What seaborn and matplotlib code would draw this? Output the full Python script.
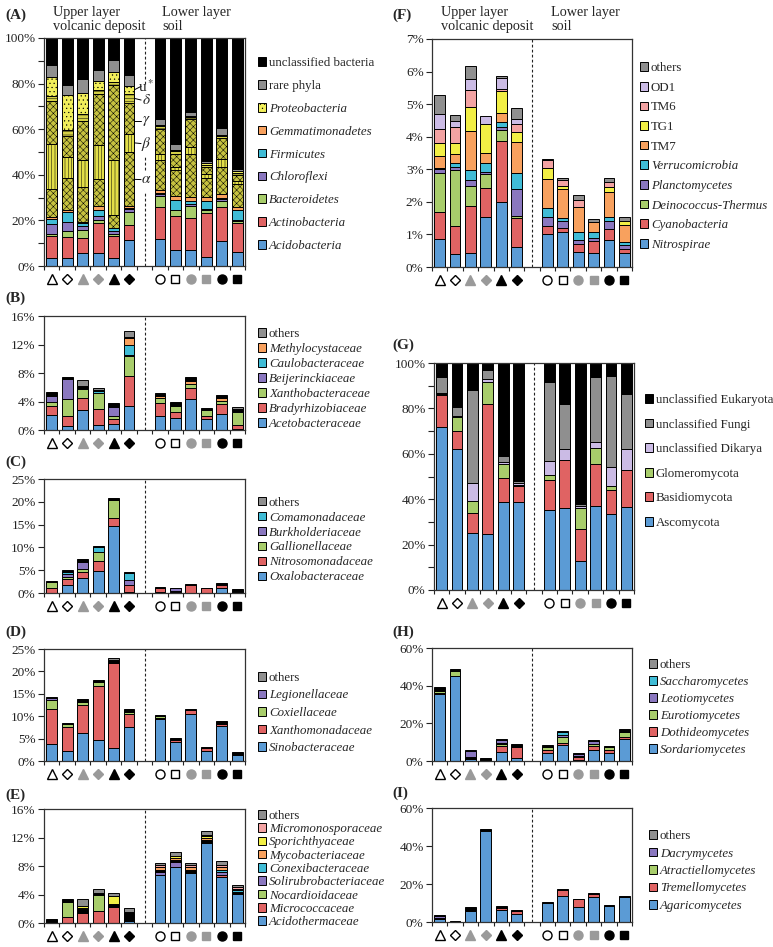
import numpy as np
import pandas as pd
import matplotlib
matplotlib.use("Agg")
import matplotlib.pyplot as plt
import matplotlib.transforms as mtransforms
from matplotlib.patches import Patch
from matplotlib.ticker import PercentFormatter, MultipleLocator
import seaborn as sns

# sample order: 6 upper-layer volcanic deposit, 6 lower-layer soil (gap at x=6)
POS = [0, 1, 2, 3, 4, 5, 7, 8, 9, 10, 11, 12]

# (A) bacterial phyla, % of reads, bottom -> top
bact_phyla = {
    "Acidobacteria":        [3.3, 3.5, 5.5, 5.5, 3.5, 11.3, 12, 7, 6.8, 4, 11, 6.3],
    "Actinobacteria":       [9.9, 9.2, 6.7, 13.3, 9.5, 6.7, 14, 15, 14.4, 19.2, 14.7, 12.7],
    "Bacteroidetes":        [1.0, 2.5, 3.6, 1.2, 1.0, 5.5, 4.5, 2.5, 5.3, 1.3, 2.8, 0.8],
    "Chloroflexi":          [4.1, 4.3, 1.7, 2.0, 1.5, 1.3, 1.0, 0.2, 0.5, 0.5, 1.0, 0.5],
    "Firmicutes":           [2.2, 4.0, 1.2, 2.7, 1.0, 0.7, 0.5, 4.1, 1.7, 3.7, 0.5, 4.4],
    "Gemmatimonadetes":     [0.9, 1.0, 0.6, 1.8, 0.3, 1.0, 1.5, 1.7, 1.5, 1.5, 1.7, 1.0],
    "alpha":                [12.4, 14.0, 15.2, 11.5, 5.7, 23.5, 13, 11.5, 18.8, 8.3, 11.8, 10.3],
    "beta":                 [19.9, 9.5, 12.0, 15.0, 24.0, 8.0, 2.5, 1.5, 3.0, 2.0, 3.5, 1.5],
    "gamma":                [18.5, 9.0, 17.0, 22.5, 33.0, 13.5, 11, 5.5, 12.5, 3.0, 9.0, 2.5],
    "delta":                [2.4, 2.5, 3.0, 1.5, 1.0, 4.0, 1.5, 1.5, 1.0, 1.0, 1.0, 1.0],
    "u":                    [8.4, 15.5, 9.5, 4.0, 4.5, 3.5, 0.5, 0.5, 0.3, 0.5, 0.5, 0.5],
    "rare phyla":           [5.3, 4.5, 6.0, 4.8, 5.5, 4.8, 2.5, 2.5, 1.7, 1.0, 3.0, 1.0],
    "unclassified bacteria": [11.7, 20.5, 18.0, 14.2, 9.5, 16.2, 35.5, 46.5, 32.5, 54, 39.5, 57.5],
}

# (B) Alphaproteobacteria families
alpha_fam = {
    "Acetobacteraceae":   [2.1, 0.6, 2.8, 0.7, 0.8, 3.4, 2.0, 1.7, 4.3, 1.55, 2.25, 0.1],
    "Bradyrhizobiaceae":  [1.2, 1.4, 1.75, 2.3, 0.8, 4.2, 1.75, 0.8, 1.6, 0.4, 1.35, 0.6],
    "Xanthobacteraceae":  [0.7, 2.4, 1.15, 2.2, 0.3, 2.8, 0.7, 0.8, 0.6, 0.9, 0.5, 1.85],
    "Beijerinckiaceae":   [0.8, 2.7, 0, 0, 1.3, 0.15, 0, 0, 0, 0, 0, 0],
    "Caulobacteraceae":   [0, 0, 0.25, 0.25, 0, 1.4, 0, 0, 0, 0, 0, 0.15],
    "Methylocystaceae":   [0, 0, 0, 0, 0, 0.9, 0.35, 0, 0.35, 0, 0.45, 0],
    "_unclassified":      [0.5, 0.4, 0.25, 0.2, 0.6, 0.15, 0.2, 0.6, 0.65, 0.15, 0.3, 0.2],
    "others":             [0, 0, 0.8, 0.25, 0, 0.95, 0.2, 0, 0, 0.1, 0, 0.35],
}

# (C) Betaproteobacteria families
beta_fam = {
    "Oxalobacteraceae":   [0, 1.7, 3.3, 4.9, 14.7, 0.3, 0.3, 0.2, 0.1, 0, 1.1, 0.2],
    "Nitrosomonadaceae":  [1.1, 1.4, 1.2, 2.2, 1.7, 1.4, 0.9, 0.3, 1.7, 1.1, 0.7, 0],
    "Gallionellaceae":    [1.4, 0.5, 0.8, 1.8, 3.9, 0, 0, 0, 0, 0, 0, 0],
    "Burkholderiaceae":   [0, 0.5, 1.5, 0, 0, 1.2, 0, 0.6, 0, 0, 0, 0],
    "Comamonadaceae":     [0, 0.6, 0, 1.2, 0, 1.4, 0, 0, 0, 0, 0, 0],
    "_unclassified":      [0.2, 0.2, 0.6, 0.3, 0.6, 0.2, 0.1, 0.1, 0.2, 0.1, 0.5, 0.7],
    "others":             [0, 0.2, 0, 0, 0, 0, 0, 0, 0, 0, 0, 0],
}

# (D) Gammaproteobacteria families
gamma_fam = {
    "Sinobacteraceae":    [3.8, 2.3, 6.3, 4.7, 2.8, 7.7, 9.3, 4.2, 10.5, 2.2, 7.9, 1.35],
    "Xanthomonadaceae":   [7.7, 5.4, 6.3, 12.1, 19.0, 2.9, 0.4, 0.5, 0.8, 0.7, 0.4, 0],
    "Coxiellaceae":       [2.1, 0.5, 0.6, 0.8, 0, 0.4, 0.3, 0, 0, 0, 0, 0],
    "Legionellaceae":     [0.4, 0, 0, 0, 0.1, 0, 0, 0, 0, 0, 0, 0],
    "_unclassified":      [0, 0.3, 0.6, 0.4, 0.6, 0.6, 0.3, 0.4, 0.3, 0.2, 0.6, 0.65],
    "others":             [0.3, 0, 0, 0, 0.6, 0, 0, 0, 0, 0, 0, 0],
}

# (E) Actinobacteria families
actino_fam = {
    "Acidothermaceae":         [0.05, 0.05, 0.05, 0.05, 0, 0.35, 6.7, 7.9, 7.0, 11.2, 6.5, 4.1],
    "Micrococcaceae":          [0, 0.75, 1.4, 1.6, 2.2, 0, 0, 0, 0, 0, 0.3, 0],
    "Nocardioidaceae":         [0, 2.1, 0, 2.35, 0, 0, 0, 0, 0, 0, 0, 0],
    "Solirubrobacteriaceae":   [0, 0, 0, 0, 0, 0, 0.4, 0.7, 0, 0, 0.4, 0],
    "_unclassified":           [0.45, 0.4, 0.6, 0.15, 0.5, 1.2, 0.4, 0.3, 0.4, 0.5, 0, 0.2],
    "Conexibacteraceae":       [0, 0, 0, 0, 0, 0, 0, 0, 0, 0, 0.3, 0.3],
    "Mycobacteriaceae":        [0, 0, 0, 0, 0, 0, 0.3, 0.25, 0.4, 0.3, 0.3, 0.15],
    "Sporichthyaceae":         [0, 0, 0.4, 0, 1.1, 0, 0, 0.2, 0, 0.2, 0, 0],
    "Micromonosporaceae":      [0, 0, 0, 0, 0, 0, 0.3, 0.1, 0.3, 0.2, 0.4, 0.25],
    "others":                  [0, 0, 0.85, 0.65, 0.45, 0.6, 0.3, 0.45, 0.3, 0.45, 0.5, 0.35],
}

# (F) minor bacterial phyla
minor_phyla = {
    "Nitrospirae":          [0.87, 0.39, 0.43, 1.54, 2.01, 0.62, 1.0, 1.06, 0.46, 0.43, 0.82, 0.43],
    "Cyanobacteria":        [0.83, 0.86, 1.43, 0.89, 1.86, 0.89, 0.25, 0.15, 0.24, 0.37, 0.36, 0.13],
    "Deinococcus-Thermus":  [1.2, 1.74, 0.62, 0.44, 0.35, 0.05, 0, 0, 0, 0, 0, 0],
    "Planctomycetes":       [0.12, 0.08, 0.19, 0.05, 0.09, 0.85, 0.27, 0.2, 0.12, 0.1, 0.23, 0.11],
    "Verrucomicrobia":      [0.03, 0.12, 0.32, 0.26, 0.14, 0.49, 0.28, 0.08, 0.24, 0.17, 0.13, 0.11],
    "TM7":                  [0.35, 0.28, 1.18, 0.31, 0.29, 0.93, 0.89, 0.91, 0.77, 0.31, 0.76, 0.5],
    "TG1":                  [0.4, 0.33, 0.73, 0.89, 0.67, 0.3, 0.34, 0.1, 0, 0, 0.16, 0.12],
    "TM6":                  [0.45, 0.5, 0.53, 0.02, 0.05, 0.25, 0.26, 0.17, 0.24, 0, 0.16, 0],
    "OD1":                  [0.45, 0.18, 0.33, 0.25, 0.33, 0.17, 0, 0, 0, 0, 0, 0],
    "others":               [0.58, 0.19, 0.41, 0, 0.08, 0.33, 0.02, 0.07, 0.13, 0.08, 0.1, 0.14],
}

# (G) eukaryotic groups
euk_phyla = {
    "Ascomycota":              [72, 62, 25, 24.7, 38.9, 38.9, 35.3, 36.1, 12.8, 37.2, 33.3, 36.5],
    "Basidiomycota":           [14, 8, 9, 57.3, 10.5, 6.9, 13.3, 21.1, 14.1, 18.1, 10.8, 16.5],
    "Glomeromycota":           [0.4, 6.2, 5.3, 9.5, 6.1, 0.5, 2.2, 0, 9.1, 7.2, 1.9, 0],
    "unclassified Dikarya":    [0.6, 0.6, 7.7, 1.5, 1.0, 0.7, 6.2, 5.0, 1.0, 2.6, 8.4, 9.0],
    "unclassified Fungi":      [7, 3.7, 41.3, 4, 2.5, 1.0, 34.8, 19.9, 1.0, 28.8, 40, 24.2],
    "unclassified Eukaryota":  [6, 19.5, 11.7, 3, 41, 52, 8.2, 17.9, 62, 6.1, 5.6, 13.8],
}

# (H) Ascomycota classes
asco_cls = {
    "Sordariomycetes":   [35.8, 45.3, 1.0, 0.3, 4.6, 1.4, 4.2, 8.5, 0.5, 6.0, 4.2, 11.5],
    "Dothideomycetes":   [0.2, 0, 0.3, 0, 3.5, 6.1, 1.6, 1.2, 1.6, 1.9, 1.4, 1.2],
    "Eurotiomycetes":    [1.2, 2.4, 0, 0, 1.0, 0, 1.8, 2.9, 0.3, 0.9, 1.8, 2.5],
    "_unclassified":     [2.3, 0.5, 1.0, 1.1, 0.5, 1.3, 0.5, 0.4, 0.3, 0.3, 0.4, 0.6],
    "Leotiomycetes":     [0, 0, 3.2, 0, 1.8, 0, 0, 0.7, 1.1, 1.4, 0, 0.4],
    "Saccharomycetes":   [0, 0, 0, 0, 0, 0, 0, 1.8, 0, 0, 0, 0],
    "others":            [0, 0.8, 0.3, 0, 0.4, 0, 0.4, 0.6, 0.3, 0.9, 0, 0.6],
}

# (I) Basidiomycota classes
basidio_cls = {
    "Agaricomycetes":      [1.8, 0.1, 6.0, 47.9, 6.3, 4.3, 9.8, 13.5, 7.9, 13.0, 8.6, 13.2],
    "Tremellomycetes":     [0.2, 0, 0.2, 0, 1.3, 1.3, 0, 3.3, 4.2, 1.6, 0, 0],
    "Atractiellomycetes":  [0, 0, 0, 0.7, 0, 0, 0, 0, 0, 0, 0, 0],
    "Dacrymycetes":        [1.0, 0, 0, 0, 0, 0, 0, 0, 0, 0, 0, 0],
    "_unclassified":       [0.5, 0.4, 1.5, 0.4, 0.6, 0.6, 0.7, 0.4, 0.1, 0.5, 0.5, 0.6],
}

# colours
BLUE = "#5b9bd5"
RED = "#e06363"
GREEN = "#a8cd6b"
PURPLE = "#8a77bf"
CYAN = "#40bcd6"
ORANGE = "#f8a15e"
YELLOW = "#f2ef45"
PINK = "#f3a3a3"
LAVENDER = "#cbbbe5"
GRAY = "#8f8f8f"
BLACK = "#000000"

W, H = 773, 947
LEG_FS = 9.3

sns.set_theme(style="ticks")
plt.rcParams["font.family"] = ["Liberation Serif", "DejaVu Serif"]
plt.rcParams["mathtext.fontset"] = "stix"
plt.rcParams["hatch.linewidth"] = 0.35

fig = plt.figure(figsize=(W / 100, H / 100), dpi=100)


def make_ax(l, r, t, b):
    return fig.add_axes([l / W, 1 - b / H, (r - l) / W, (b - t) / H])


def stack_bars(ax, data, colors, hatches=None):
    bottom = np.zeros(len(POS))
    for i, (name, vals) in enumerate(data.items()):
        vals = np.asarray(vals, dtype=float)
        df = pd.DataFrame({"pos": POS, "val": vals})
        sns.barplot(data=df, x="pos", y="val", native_scale=True, orient="x",
                    bottom=bottom.copy(), color=colors[i], saturation=1,
                    width=0.7, edgecolor="black", linewidth=0.7, errorbar=None,
                    hatch=hatches[i] if hatches else None, ax=ax)
        bottom += vals
    # zero-height bars would show up as stray black lines
    for p in ax.patches:
        if p.get_height() <= 0:
            p.set_visible(False)


MARKERS = [("^", "white", "black", 7), ("D", "white", "black", 5),
           ("^", "#9a9a9a", "#9a9a9a", 7), ("D", "#9a9a9a", "#9a9a9a", 5),
           ("^", "black", "black", 7), ("D", "black", "black", 5),
           ("o", "white", "black", 6.5), ("s", "white", "black", 6.2),
           ("o", "#9a9a9a", "#9a9a9a", 6.5), ("s", "#9a9a9a", "#9a9a9a", 6.2),
           ("o", "black", "black", 6.5), ("s", "black", "black", 6.2)]


def style_ax(ax, ymax, major, minor=None, dash_segments=None):
    ax.set_xlim(-0.5, 12.5)
    ax.set_ylim(0, ymax)
    ax.set_xlabel("")
    ax.set_ylabel("")
    ax.set_xticks(np.arange(-0.5, 12.6, 1))
    ax.yaxis.set_major_locator(MultipleLocator(major))
    if minor:
        ax.yaxis.set_minor_locator(MultipleLocator(minor))
    ax.yaxis.set_major_formatter(PercentFormatter(decimals=0))
    ax.tick_params(axis="x", which="major", length=3, width=0.8, labelbottom=False,
                   direction="out", bottom=True, color="#222222")
    ax.tick_params(axis="y", which="both", length=4, width=0.8, direction="out",
                   left=True, labelsize=9.5, labelcolor="#222222", color="#222222", pad=2)
    for sp in ax.spines.values():
        sp.set_visible(True)
        sp.set_linewidth(0.9)
        sp.set_color("#333333")
    if dash_segments is None:
        dash_segments = [(0, ymax)]
    for y0, y1 in dash_segments:
        ax.plot([6, 6], [y0, y1], color="#222222", lw=0.8, ls=(0, (2.5, 2)))
    trans = mtransforms.offset_copy(ax.get_xaxis_transform(), fig=fig, y=-13, units="dots")
    for x, (m, fc, ec, ms) in zip(POS, MARKERS):
        ax.plot([x], [0], ls="none", marker=m, ms=ms, mfc=fc, mec=ec, mew=1.0,
                transform=trans, clip_on=False)


def add_legend(names, colors, italic, x_px, yc_px, ls, hatches=None):
    handles = [Patch(facecolor=colors[i], edgecolor="black", linewidth=0.7,
                     hatch=hatches[i] if hatches else None) for i in range(len(names))]
    leg = fig.legend(handles, names, loc="center left",
                     bbox_to_anchor=(x_px / W, 1 - yc_px / H), frameon=False,
                     fontsize=LEG_FS, handlelength=0.65, handleheight=0.65,
                     handletextpad=0.2, labelspacing=ls, borderpad=0, borderaxespad=0)
    for t in leg.get_texts():
        if t.get_text() in italic:
            t.set_fontstyle("italic")
    return leg


def legend_from(data, colors):
    # top of stack first, skipping the unnamed black bands
    names = [k for k in data if not k.startswith("_")][::-1]
    cols = [colors[list(data).index(k)] for k in names]
    return names, cols


# ---- (A) phyla ----
ax_a = make_ax(44, 245, 38, 266)
a_colors = [BLUE, RED, GREEN, PURPLE, CYAN, ORANGE,
            "#c6c240", "#e2de48", "#c6c240", "#d4d046", "#f1ee5a", GRAY, BLACK]
a_hatch = [None] * 6 + ["xxxxx", "|||||", "xxxxx", "-----", "...."] + [None, None]
stack_bars(ax_a, bact_phyla, a_colors, a_hatch)
style_ax(ax_a, 100, 20, 10, dash_segments=[(80, 100), (42, 48), (0, 32.5)])
sub_labels = [("u$^*$", 78.8, 77.3), (r"$\delta$", 72.8, 73.5), (r"$\gamma$", 63.6, 63.6),
              (r"$\beta$", 53.7, 54.0), (r"$\alpha$", 37.9, 38.0)]
for txt, yl, yb in sub_labels:
    ax_a.plot([5.35, 5.78], [yb, yl], color="black", lw=0.7)
    ax_a.text(6.1, yl, txt, ha="center", va="center", fontsize=11)
a_names = ["unclassified bacteria", "rare phyla", "Proteobacteria", "Gemmatimonadetes",
           "Firmicutes", "Chloroflexi", "Bacteroidetes", "Actinobacteria", "Acidobacteria"]
a_leg_cols = [BLACK, GRAY, "#f1ee5a", ORANGE, CYAN, PURPLE, GREEN, RED, BLUE]
a_leg_hatch = [None, None, "....", None, None, None, None, None, None]
add_legend(a_names, a_leg_cols, a_names[2:], 258, 154.5, 0.84, hatches=a_leg_hatch)

# ---- (B) ----
ax_b = make_ax(44, 245, 316, 430)
b_colors = [BLUE, RED, GREEN, PURPLE, CYAN, ORANGE, BLACK, GRAY]
stack_bars(ax_b, alpha_fam, b_colors)
style_ax(ax_b, 16, 4)
n, c = legend_from(alpha_fam, b_colors)
add_legend(n, c, n[1:], 258, 379, 0.23)

# ---- (C) ----
ax_c = make_ax(44, 245, 479, 593)
c_colors = [BLUE, RED, GREEN, PURPLE, CYAN, BLACK, GRAY]
stack_bars(ax_c, beta_fam, c_colors)
style_ax(ax_c, 25, 5)
n, c = legend_from(beta_fam, c_colors)
add_legend(n, c, n[1:], 258, 540, 0.23)

# ---- (D) ----
ax_d = make_ax(44, 245, 649, 761)
d_colors = [BLUE, RED, GREEN, PURPLE, BLACK, GRAY]
stack_bars(ax_d, gamma_fam, d_colors)
style_ax(ax_d, 25, 5)
n, c = legend_from(gamma_fam, d_colors)
add_legend(n, c, n[1:], 258, 713, 0.43)

# ---- (E) ----
ax_e = make_ax(44, 245, 809, 923)
e_colors = [BLUE, RED, GREEN, PURPLE, BLACK, CYAN, ORANGE, YELLOW, PINK, GRAY]
stack_bars(ax_e, actino_fam, e_colors)
style_ax(ax_e, 16, 4)
n, c = legend_from(actino_fam, e_colors)
add_legend(n, c, n[1:], 258, 869, 0.10)

# ---- (F) ----
ax_f = make_ax(432, 632, 39, 267)
f_colors = [BLUE, RED, GREEN, PURPLE, CYAN, ORANGE, YELLOW, PINK, LAVENDER, GRAY]
stack_bars(ax_f, minor_phyla, f_colors)
style_ax(ax_f, 7, 1)
n, c = legend_from(minor_phyla, f_colors)
add_legend(n, c, ["Verrucomicrobia", "Planctomycetes", "Deinococcus-Thermus",
                  "Cyanobacteria", "Nitrospirae"], 640, 156.5, 0.59)

# ---- (G) ----
ax_g = make_ax(434, 634, 363, 590)
g_colors = [BLUE, RED, GREEN, LAVENDER, GRAY, BLACK]
stack_bars(ax_g, euk_phyla, g_colors)
style_ax(ax_g, 100, 20, 10)
n, c = legend_from(euk_phyla, g_colors)
add_legend(n, c, [], 645, 461.5, 0.97)

# ---- (H) ----
ax_h = make_ax(432, 632, 648, 761)
h_colors = [BLUE, RED, GREEN, BLACK, PURPLE, CYAN, GRAY]
stack_bars(ax_h, asco_cls, h_colors)
style_ax(ax_h, 60, 20)
n, c = legend_from(asco_cls, h_colors)
add_legend(n, c, n[1:], 649, 707.5, 0.39)

# ---- (I) ----
ax_i = make_ax(432, 632, 808, 922)
i_colors = [BLUE, RED, GREEN, PURPLE, BLACK]
stack_bars(ax_i, basidio_cls, i_colors)
style_ax(ax_i, 60, 20)
n, c = legend_from(basidio_cls, i_colors)
n = ["others"] + n
c = [GRAY] + c
add_legend(n, c, n[1:], 649, 871, 0.42)

# panel letters and headers
for letter, x, y in [("(A)", 5, 15), ("(B)", 5, 298), ("(C)", 5, 462), ("(D)", 5, 632),
                     ("(E)", 5, 795), ("(F)", 392, 15), ("(G)", 392, 345),
                     ("(H)", 392, 632), ("(I)", 392, 793)]:
    fig.text(x / W, 1 - y / H, letter, fontsize=11, fontweight="bold", va="center")

for x, txt in [(53, "Upper layer\nvolcanic deposit"), (162, "Lower layer\nsoil"),
               (441, "Upper layer\nvolcanic deposit"), (551, "Lower layer\nsoil")]:
    fig.text(x / W, 1 - 19.5 / H, txt, fontsize=10.3, va="center", ha="left", linespacing=1.05)

fig.savefig("out.png", dpi=100)
